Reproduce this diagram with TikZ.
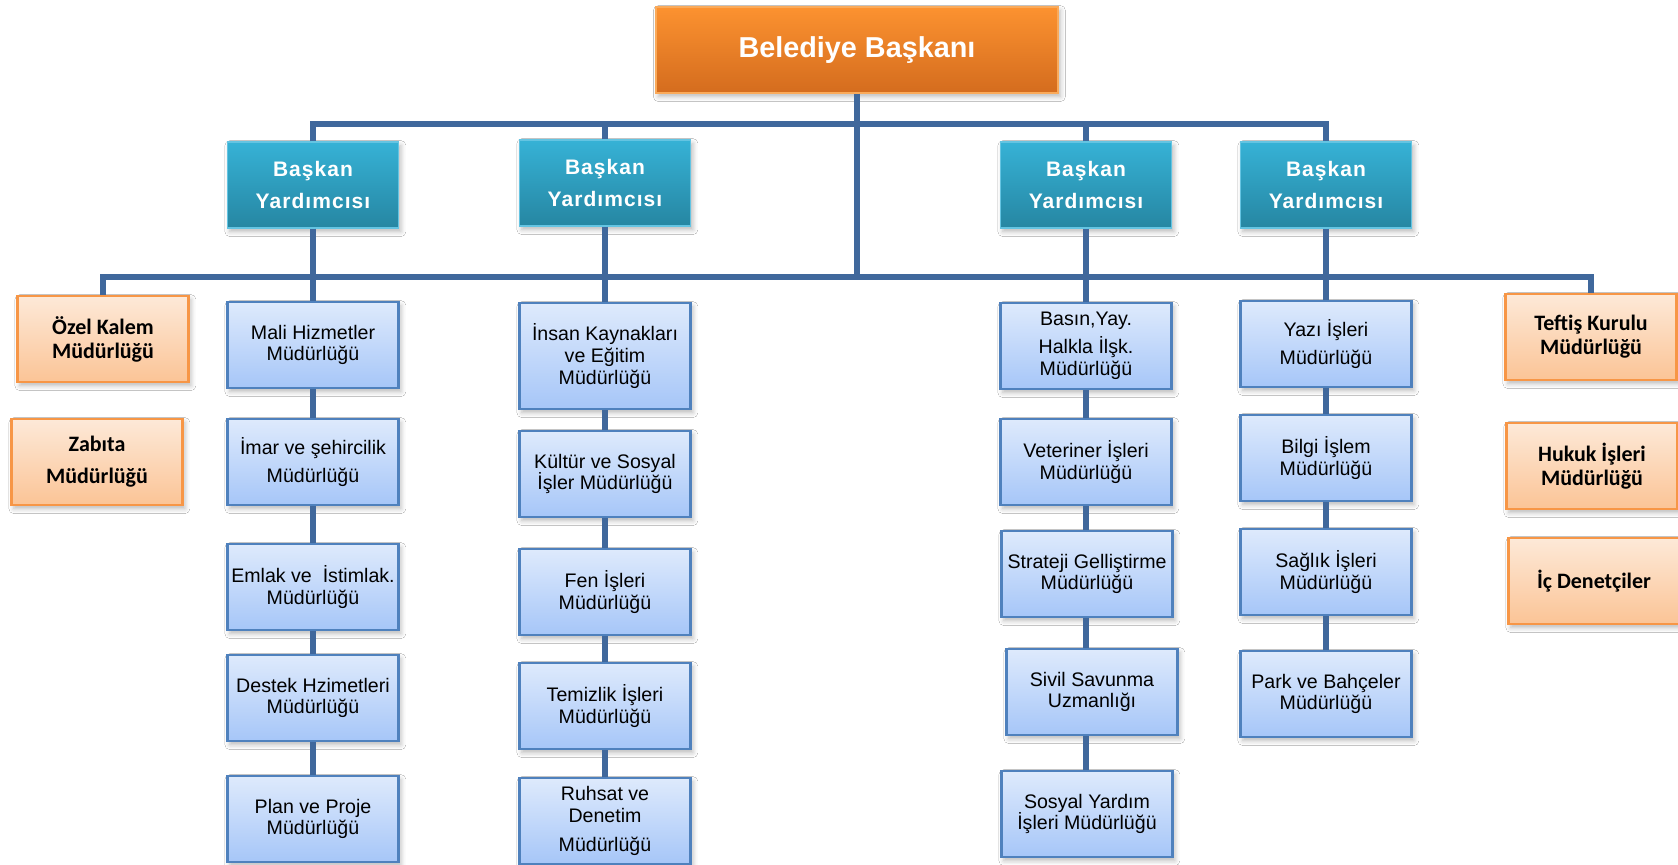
\documentclass[tikz,border=0pt]{standalone}
\usepackage{fontspec}
\setmainfont{Liberation Sans}
\newfontfamily\calfont{Carlito}
\newfontfamily\vpfont{Liberation Sans}[LetterSpace=5]
\usetikzlibrary{positioning, shadows.blur}
\definecolor{busline}{RGB}{64,104,156}
\definecolor{mudurline}{RGB}{79,129,189}
\definecolor{mudurtop}{RGB}{222,234,252}
\definecolor{mudurbot}{RGB}{166,198,248}
\definecolor{yardtop}{RGB}{54,178,214}
\definecolor{yardbot}{RGB}{38,134,162}
\definecolor{yardline}{RGB}{100,196,226}
\definecolor{bbtop}{RGB}{252,146,48}
\definecolor{bbbot}{RGB}{212,108,30}
\definecolor{bbline}{RGB}{250,170,90}
\definecolor{birimline}{RGB}{247,150,70}
\definecolor{birimtop}{RGB}{253,233,216}
\definecolor{birimbot}{RGB}{251,196,150}
\tikzset{
x=0.5pt, y=-0.5pt, % one unit is one pixel of the chart, y runs downwards
golge/.style={blur shadow={shadow xshift=1.2pt, shadow yshift=-1.8pt, shadow blur radius=2.5pt, shadow opacity=28}}, % soft shadow under the boxes
baskan/.style={rectangle, draw=bbline, line width=0.6pt, top color=bbtop, bottom color=bbbot, text=white, minimum width=201pt, minimum height=43pt, font=\bfseries\fontsize{14.4}{16}\selectfont, golge}, % the mayor
yard/.style={rectangle, draw=yardline, line width=0.6pt, top color=yardtop, bottom color=yardbot, text=white, minimum width=85.5pt, minimum height=43pt, align=center, font=\vpfont\bfseries\fontsize{10.5}{15.8}\selectfont, golge}, % deputy mayors
mudur/.style={rectangle, draw=mudurline, line width=1.2pt, top color=mudurtop, bottom color=mudurbot, minimum width=85.5pt, minimum height=43pt, inner sep=1pt, align=center, font=\fontsize{9.8}{10.9}\selectfont, golge}, % directorates
birim/.style={rectangle, draw=birimline, line width=1.3pt, top color=birimtop, bottom color=birimbot, minimum width=85.5pt, minimum height=43pt, align=center, font=\calfont\bfseries\fontsize{11}{12}\selectfont, golge}, % units tied to the mayor
bag/.style={draw=busline, line width=2.7pt}, % connector lines
}
\begin{document}
\begin{tikzpicture}
    \useasboundingbox (0,0) rectangle (1678,865);
    \fill[white] (0,0) rectangle (1678,865);
    \node[baskan] (bb) at (857,50) {Belediye Başkanı};
    \node[yard] (y1) at (313,185) {Başkan\\Yardımcısı};
    \node[yard] (y2) at (605,183) {Başkan\\Yardımcısı};
    \node[yard] (y3) at (1086,185) {Başkan\\Yardımcısı};
    \node[yard] (y4) at (1326,185) {Başkan\\Yardımcısı};
    % first column
    \node[mudur] (mali) at (313,345) {Mali Hizmetler\\Müdürlüğü};
    \node[mudur] (imar) at (313,462) {İmar ve şehircilik\\[3pt]Müdürlüğü};
    \node[mudur] (emlak) at (313,587) {Emlak ve \ İstimlak.\\Müdürlüğü};
    \node[mudur] (destek) at (313,698) {Destek Hzimetleri\\Müdürlüğü};
    \node[mudur] (plan) at (313,819) {Plan ve Proje\\Müdürlüğü};
    % second column
    \node[mudur, minimum height=53pt] (insan) at (605,356) {İnsan Kaynakları\\ve Eğitim\\Müdürlüğü};
    \node[mudur] (kultur) at (605,474) {Kültür ve Sosyal\\İşler Müdürlüğü};
    \node[mudur] (fen) at (605,592) {Fen İşleri\\Müdürlüğü};
    \node[mudur] (temiz) at (605,706) {Temizlik İşleri\\Müdürlüğü};
    \node[mudur] (ruhsat) at (605,821) {Ruhsat ve\\Denetim\\[4pt]Müdürlüğü};
    % third column
    \node[mudur] (basin) at (1086,346) {Basın,Yay.\\[3pt]Halkla İlşk.\\Müdürlüğü};
    \node[mudur] (veter) at (1086,462) {Veteriner İşleri\\Müdürlüğü};
    \node[mudur] (strat) at (1087,574) {Strateji Gelliştirme\\Müdürlüğü};
    \node[mudur] (sivil) at (1092,692) {Sivil Savunma\\Uzmanlığı};
    \node[mudur] (sosyal) at (1087,814) {Sosyal Yardım\\İşleri Müdürlüğü};
    % fourth column
    \node[mudur] (yazi) at (1326,344) {Yazı İşleri\\[3pt]Müdürlüğü};
    \node[mudur] (bilgi) at (1326,458) {Bilgi İşlem\\Müdürlüğü};
    \node[mudur] (saglik) at (1326,572) {Sağlık İşleri\\Müdürlüğü};
    \node[mudur] (park) at (1326,694) {Park ve Bahçeler\\Müdürlüğü};
    % units on both sides
    \node[birim] (ozel) at (103,339) {Özel Kalem\\Müdürlüğü};
    \node[birim] (zabita) at (97,462) {Zabıta\\[4pt]Müdürlüğü};
    \node[birim] (teftis) at (1591,337) {Teftiş Kurulu\\Müdürlüğü};
    \node[birim] (hukuk) at (1592,466) {Hukuk İşleri\\Müdürlüğü};
    \node[birim] (icden) at (1594,581) {İç Denetçiler};
    \coordinate (ust) at (857,124);
    \coordinate (alt) at (857,277);
    \draw[bag] (bb) -- (alt);
    \draw[bag] (y1.north) |- (ust) -| (y4.north);
    \draw[bag] (y2.north) -- (y2.north |- ust);
    \draw[bag] (y3.north) -- (y3.north |- ust);
    \draw[bag] (ozel.north) |- (alt) -| (teftis.north);
    \draw[bag] (y1) -- (mali) -- (imar) -- (emlak) -- (destek) -- (plan);
    \draw[bag] (y2) -- (insan) -- (kultur) -- (fen) -- (temiz) -- (ruhsat);
    \draw[bag] (y3) -- (basin) -- (veter) -- (veter |- strat.north);
    \draw[bag] (strat.south -| veter) -- (sivil.north -| veter);
    \draw[bag] (sivil.south -| veter) -- (sosyal.north -| veter);
    \draw[bag] (y4) -- (yazi) -- (bilgi) -- (saglik) -- (park);
\end{tikzpicture}
\end{document}
